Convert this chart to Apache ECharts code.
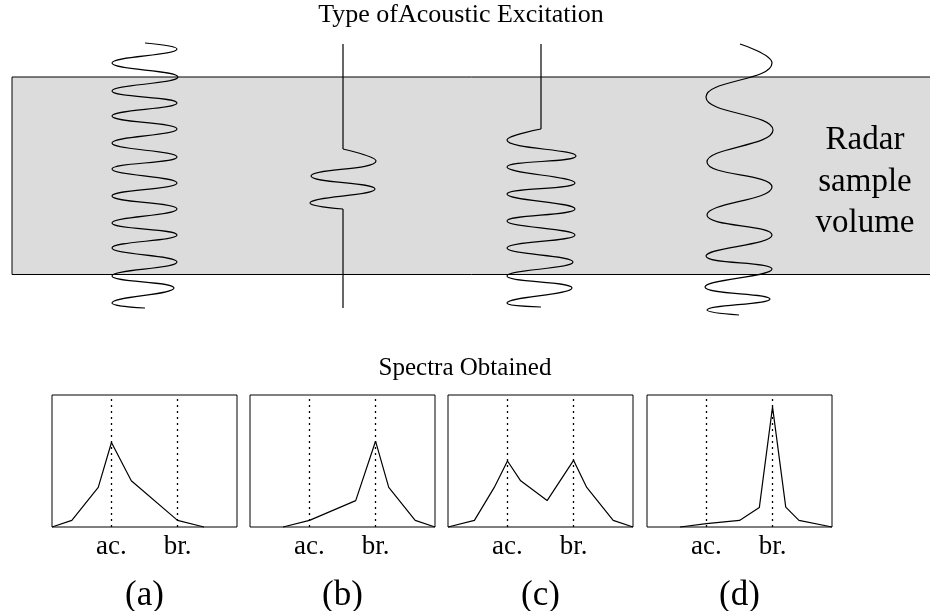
<!DOCTYPE html>
<html>
<head>
<meta charset="utf-8">
<script src="https://cdn.jsdelivr.net/npm/echarts@6/dist/echarts.min.js"></script>
<style>html,body{margin:0;padding:0;background:#fff;overflow:hidden}#c{width:930px;height:611px}</style>
</head>
<body>
<div id="c"></div>
<script>
// ---- Diagram data ----
// Excitation waveforms: turning points [x, depth]
const waveA = [[145,43],[177,49],[112,63],[178,77],[112,91],[177,103],[112,116],[177,129],[112,143],[177,157],[112,169],[177,183],[112,196],[177,209],[112,223],[177,235],[112,248],[177,262],[112,276],[174,288],[112,303],[145,308]];
const waveBTop = [[343,44],[343,149]];
const waveBBurst = [[343,149],[376,161],[311,176],[375,189],[310,203],[343,209]];
const waveBBottom = [[343,209],[343,308]];
const waveCTop = [[541,44],[541,129]];
const waveCBurst = [[541,129],[507,140],[576,156],[507,167],[575,183],[507,194],[575,209],[507,221],[575,235],[507,248],[573,262],[507,276],[572,288],[507,303],[541,307]];
const waveD = [[740,44],[772,63],[706,97],[773,130],[707,162],[772,187],[707,215],[772,235],[706,256],[772,269],[705,287],[770,299],[707,310],[739,315]];
const volumeBox = [[12,77],[940,274.5]];

// Spectra: [frequency bin, relative power]
const binTicks = [9, 19];
const binNames = ['ac.', 'br.'];
const spectrumA = [[0,0],[3,5],[7,30],[9,64],[12,35],[19,5],[23,0]];
const spectrumB = [[5,0],[9,5],[16,20],[19,65],[21,30],[25,5],[28,0]];
const spectrumC = [[0,0],[4,5],[7,30],[9,50],[11,35],[15,20],[19,50.5],[21,30],[25,5],[28,0]];
const spectrumD = [[5,0],[9,2.5],[14,5],[17,14.7],[19,91],[21,15],[23,5],[28,0]];
const panelNames = ['(a)', '(b)', '(c)', '(d)'];
const spectra = [spectrumA, spectrumB, spectrumC, spectrumD];

const SERIF = 'Liberation Serif';
const chart = echarts.init(document.getElementById('c'), null, {renderer: 'canvas'});

const panelLeft = [52, 250, 448, 647];
const grids = [{left: 0, top: 0, width: 950, height: 611, show: false, outerBoundsMode: 'none', containLabel: false}];
const xAxes = [{gridIndex: 0, type: 'value', min: 0, max: 950, show: false}];
const yAxes = [{gridIndex: 0, type: 'value', min: 0, max: 611, inverse: true, show: false}];
panelLeft.forEach((l, i) => {
  grids.push({left: l, top: 395, width: 185, height: 132, show: true, borderColor: '#000', borderWidth: 1,
    backgroundColor: 'transparent', outerBoundsMode: 'none', containLabel: false});
  xAxes.push({
    gridIndex: i + 1, type: 'value', min: 0, max: 28, interval: 1,
    axisLine: {show: false}, axisTick: {show: false}, splitLine: {show: false},
    axisLabel: {
      formatter: v => { const k = binTicks.indexOf(v); return k >= 0 ? binNames[k] : ''; },
      fontFamily: SERIF, fontSize: 27, color: '#000', margin: 6
    },
    name: panelNames[i], nameLocation: 'middle', nameGap: 51,
    nameTextStyle: {fontFamily: SERIF, fontSize: 35, color: '#000'}
  });
  yAxes.push({gridIndex: i + 1, type: 'value', min: 0, max: 100, show: false});
});

const waveStyle = {color: '#000', width: 1.2};
function waveSeries(data, smooth) {
  return {type: 'line', xAxisIndex: 0, yAxisIndex: 0, data: data, smooth: smooth ? 0.5 : false,
    symbol: 'none', lineStyle: waveStyle, silent: true, z: 3, clip: false, animation: false};
}
const series = [];
const a = waveSeries(waveA, true);
a.markArea = {silent: true, itemStyle: {color: '#dcdcdc', borderColor: '#000', borderWidth: 1},
  data: [[{coord: volumeBox[0]}, {coord: volumeBox[1]}]]};
series.push(a);
series.push(waveSeries(waveBTop, false), waveSeries(waveBBurst, true), waveSeries(waveBBottom, false));
series.push(waveSeries(waveCTop, false), waveSeries(waveCBurst, true));
series.push(waveSeries(waveD, true));

spectra.forEach((d, i) => {
  series.push({
    type: 'line', xAxisIndex: i + 1, yAxisIndex: i + 1, data: d, symbol: 'none',
    lineStyle: {color: '#000', width: 1.2}, silent: true, animation: false, clip: false,
    markLine: {silent: true, symbol: 'none', label: {show: false}, animation: false,
      lineStyle: {color: '#000', type: [2, 4], width: 1.3},
      data: binTicks.map(t => ({xAxis: t}))}
  });
});

chart.setOption({
  backgroundColor: '#fff',
  animation: false,
  grid: grids, xAxis: xAxes, yAxis: yAxes, series: series,
  graphic: [
    {type: 'text', x: 461, y: 15, style: {text: 'Type ofAcoustic Excitation', font: '26px "Liberation Serif"', fill: '#000', align: 'center', verticalAlign: 'middle'}},
    {type: 'text', x: 465, y: 368, style: {text: 'Spectra Obtained', font: '25px "Liberation Serif"', fill: '#000', align: 'center', verticalAlign: 'middle'}},
    {type: 'text', x: 865, y: 182, z: 10, style: {text: 'Radar\nsample\nvolume', font: '33px "Liberation Serif"', lineHeight: 41.5, fill: '#000', align: 'center', verticalAlign: 'middle'}}
  ]
});
</script>
</body>
</html>
